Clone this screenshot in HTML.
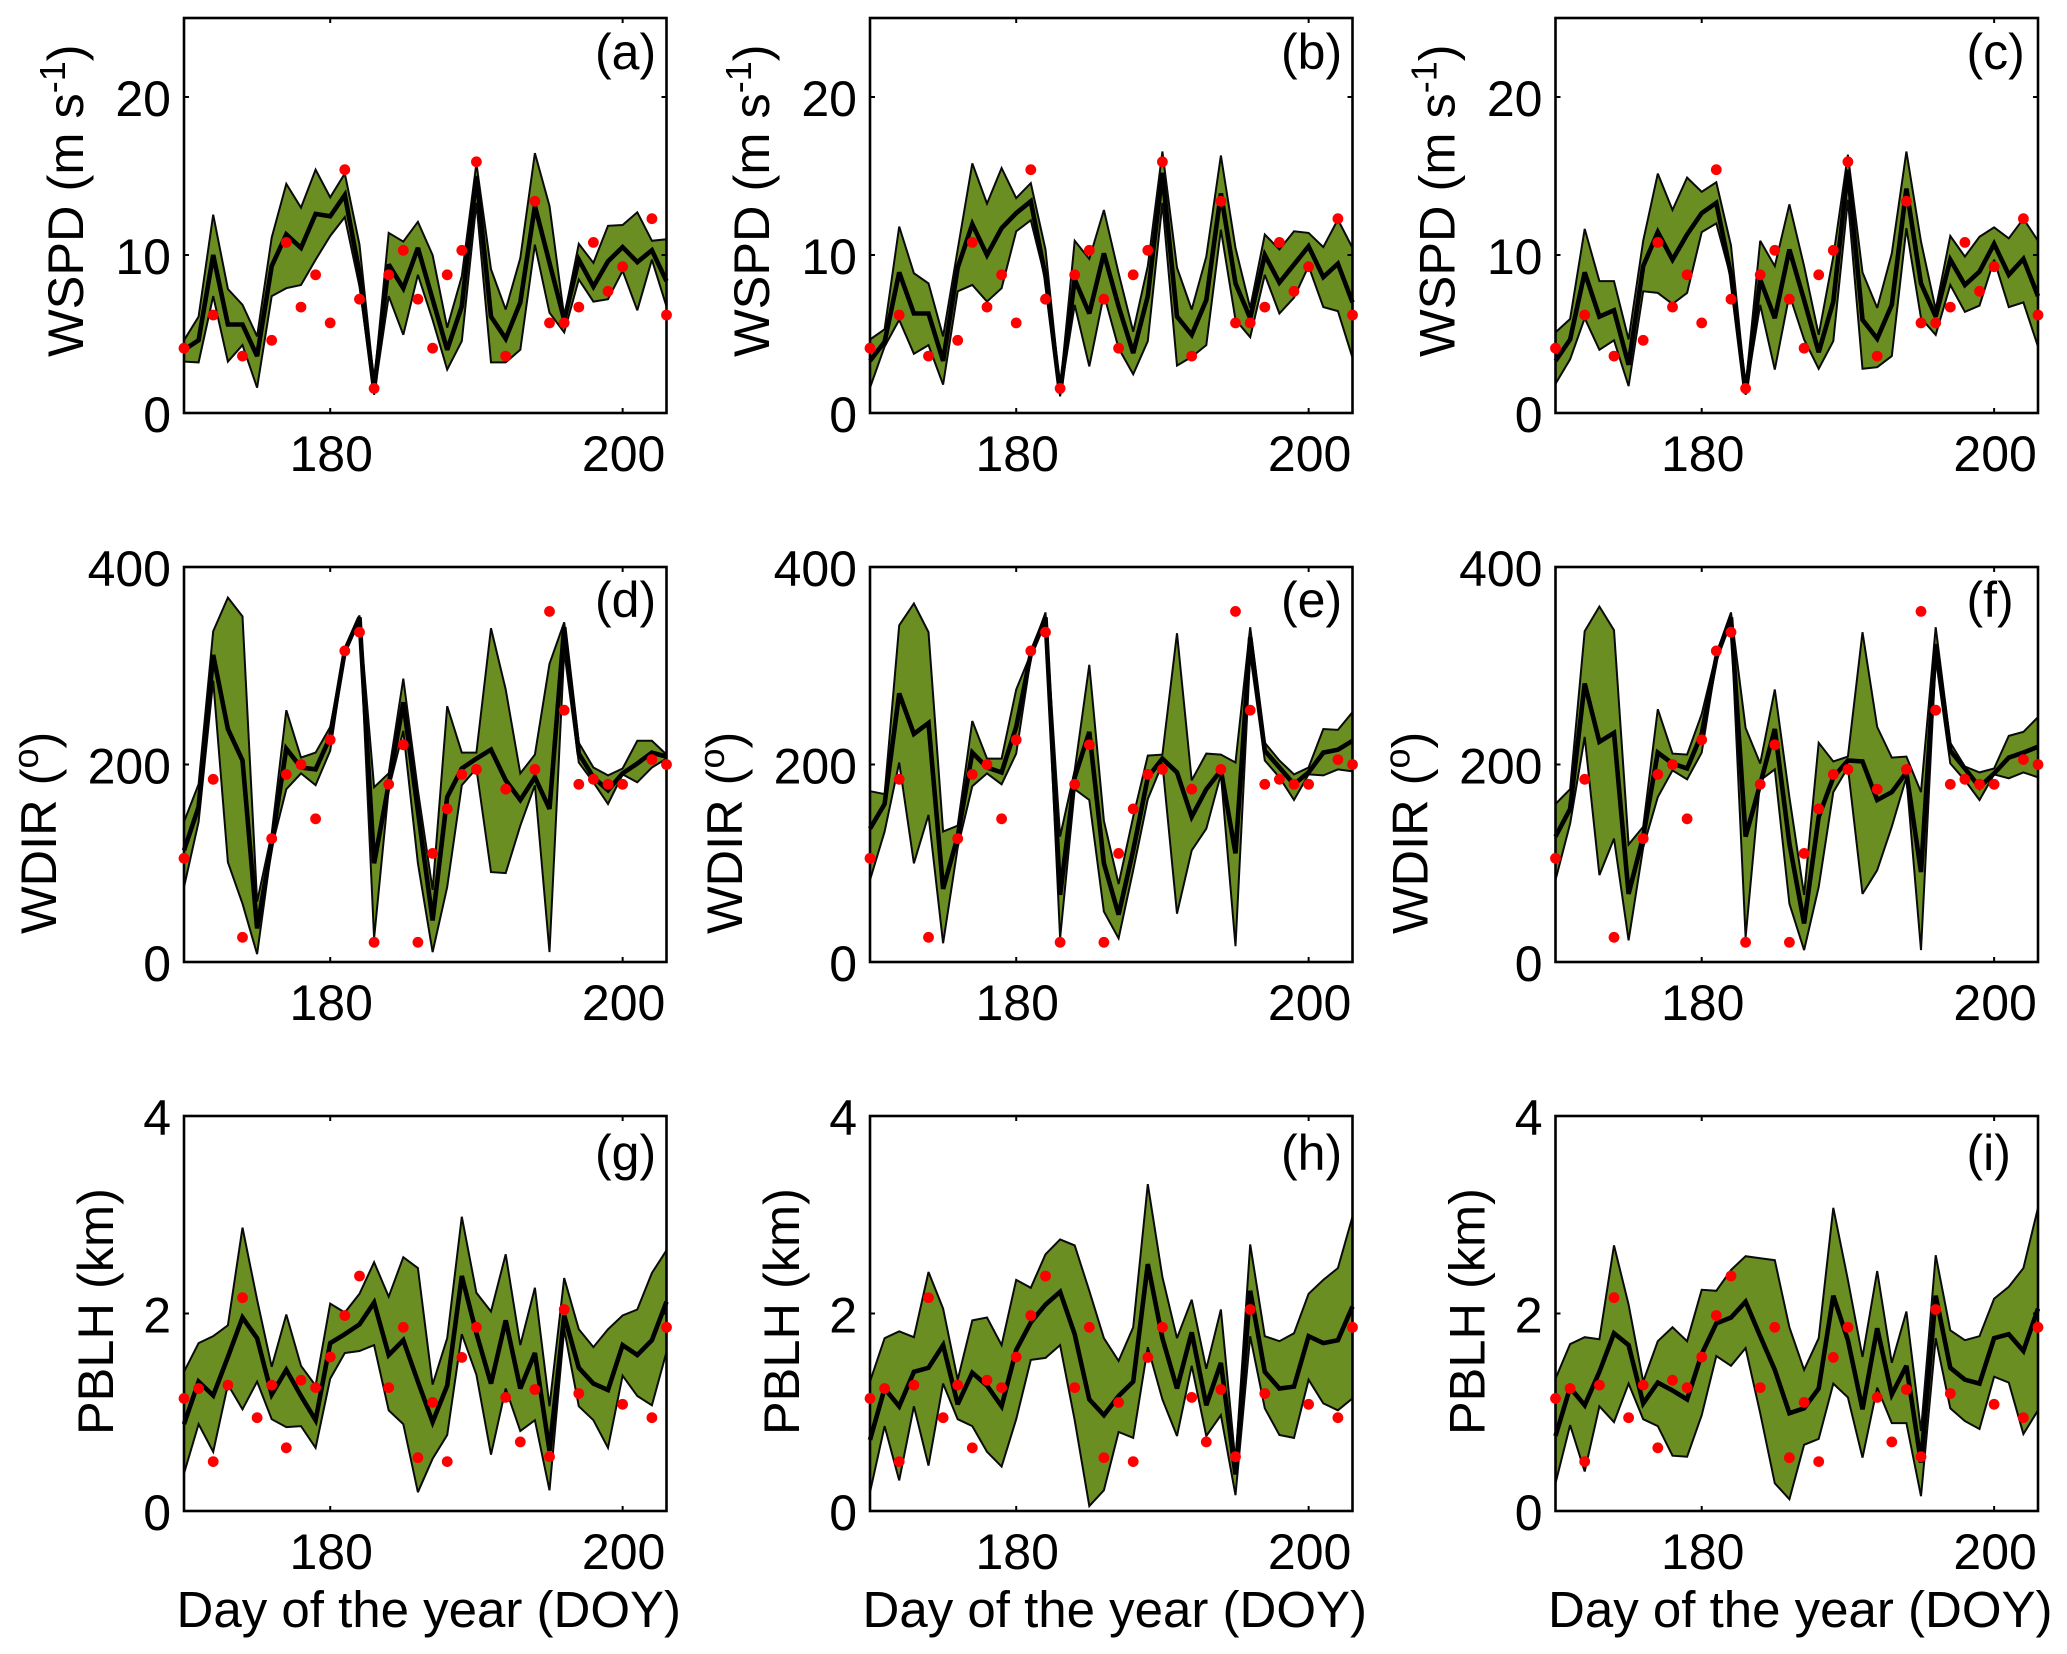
<!DOCTYPE html>
<html lang="en">
<head>
<meta charset="utf-8">
<title>WSPD, WDIR and PBLH ensemble time series</title>
<style>
html,body{margin:0;padding:0;background:#fff;}
svg{display:block;font-family:"Liberation Sans",Arial,sans-serif;}
</style>
</head>
<body>
<svg id="figure" xmlns="http://www.w3.org/2000/svg" width="2067" height="1654" viewBox="0 0 2067 1654"></svg>
<script>
const days=[170,171,172,173,174,175,176,177,178,179,180,181,182,183,184,185,186,187,188,189,190,191,192,193,194,195,196,197,198,199,200,201,202,203];

const obsWSPD=[4.1,null,6.2,null,3.6,null,4.6,10.8,6.7,8.75,5.7,15.4,7.2,1.56,8.75,10.3,7.2,4.1,8.75,10.3,15.9,null,3.6,null,13.4,5.7,5.7,6.7,10.8,7.7,9.26,null,12.3,6.2];
const obsWDIR=[105,null,185,null,25,null,125,190,200,145,225,315,334,20,180,220,20,110,155,190,195,null,175,null,195,355,255,180,185,180,180,null,205,200];
const obsPBLH=[1.14,1.24,0.5,1.275,2.16,0.945,1.275,0.64,1.325,1.25,1.56,1.98,2.38,null,1.25,1.86,0.54,1.10,0.5,1.555,1.86,null,1.15,0.70,1.23,0.55,2.04,1.19,null,null,1.08,null,0.945,1.86];

const upperA=[4.6,6.1,12.55,7.85,6.85,4.85,11.1,14.5,13.0,15.4,13.65,15.15,10.65,1.9,11.4,10.85,12.1,10.0,5.4,8.65,15.8,9.1,6.55,9.8,16.45,13.1,6.1,10.7,9.5,11.85,11.9,12.7,10.9,11.0];
const meanA=[4.0,4.6,10.0,5.6,5.6,3.6,9.3,11.3,10.45,12.6,12.45,13.8,8.85,1.5,9.4,7.9,10.45,7.2,4.0,6.75,15.0,6.1,4.7,7.0,13.1,9.5,5.9,9.7,8.0,9.6,10.5,9.55,10.3,8.35];
const lowerA=[3.25,3.2,7.4,3.25,4.3,1.6,7.4,7.9,8.1,9.7,11.2,12.4,8.0,1.15,7.4,4.95,8.75,5.9,2.75,4.55,13.3,3.2,3.2,4.0,10.65,6.35,5.1,8.45,7.05,7.2,9.0,6.5,9.7,6.75];

const upperB=[4.65,5.3,11.8,8.85,8.2,4.85,10.35,15.8,13.25,15.5,13.6,14.55,10.35,1.5,10.9,9.75,12.85,8.85,5.15,9.3,16.55,9.2,6.55,9.9,16.3,10.45,6.65,11.3,10.35,11.5,11.4,10.5,12.25,10.45];
const meanB=[3.3,4.5,8.9,6.3,6.3,3.3,9.2,11.95,10.0,11.7,12.65,13.4,8.65,1.25,8.45,6.3,10.1,6.75,3.8,7.4,15.2,6.1,4.95,7.15,13.9,8.2,6.0,10.0,8.25,9.4,10.55,8.6,9.45,7.0];
const lowerB=[1.6,4.2,5.9,3.75,4.3,1.8,7.7,8.1,7.05,7.9,11.5,12.2,8.45,1.05,6.85,2.95,7.5,4.1,2.45,4.55,13.3,3.0,3.55,4.3,11.6,5.9,4.8,8.75,6.3,7.3,9.3,6.7,6.45,3.5];

const upperC=[5.1,5.95,11.65,8.35,8.35,4.65,10.9,15.15,12.85,14.9,14.0,14.6,10.6,1.6,10.9,9.3,13.2,9.3,4.95,9.9,16.35,8.9,6.65,10.1,16.55,10.85,6.55,11.2,9.9,11.15,11.75,11.05,12.3,10.9];
const meanC=[3.3,4.65,8.9,6.1,6.5,3.05,9.3,11.45,9.7,11.3,12.65,13.3,8.75,1.25,8.45,6.0,10.35,7.15,3.85,7.05,15.4,5.9,4.7,6.85,14.2,8.2,6.1,9.7,8.1,8.95,10.7,8.75,9.75,7.4];
const lowerC=[1.85,3.4,6.0,4.0,4.6,1.7,7.7,7.6,6.9,7.6,11.45,12.0,8.55,1.15,6.85,2.75,7.5,4.65,2.8,4.55,13.5,2.8,2.9,3.6,11.7,6.0,4.95,8.1,6.4,6.8,9.7,6.7,7.0,4.2];

const upperD=[142,180,335,369,350,61,130,255,207,212,238,315,351,177,191,287,174,73,259,212,212,338,276,191,210,302,344,222,197,189,196,224,224,210];
const meanD=[113,157,311,236,204,34,120,216,197,195,228,315,349,100,180,263,153,42,167,196,206,215,184,164,187,155,339,211,187,174,191,201,212,208];
const lowerD=[76,142,285,101,59,8,116,175,191,179,214,313,347,24,175,234,100,10,76,179,196,91,90,138,179,10,315,202,182,160,190,182,197,206];

const upperE=[173,170,341,363,334,132,138,244,206,206,276,312,354,127,194,301,143,79,147,209,210,333,184,211,210,202,339,222,204,190,197,236,235,253];
const meanE=[135,160,272,231,242,74,127,212,197,192,238,312,349,68,187,233,100,48,113,187,206,192,147,175,194,110,329,214,197,180,192,212,215,224];
const lowerE=[83,132,202,100,149,19,116,178,191,180,211,308,344,24,175,164,51,24,93,165,201,49,113,135,190,16,312,204,187,164,190,189,195,193];

const upperF=[160,175,335,360,336,119,137,256,211,210,251,312,354,237,201,276,167,68,222,203,208,334,238,207,208,172,339,222,198,192,196,229,233,248];
const meanF=[127,155,282,223,232,69,127,212,201,196,231,308,349,127,180,236,120,39,147,187,204,203,164,172,192,91,322,214,196,177,191,207,212,218];
const lowerF=[83,140,228,88,125,22,116,167,194,185,212,305,344,25,184,195,59,12,76,172,197,69,93,137,187,12,308,201,184,164,190,186,192,187];

const upperG=[1.41,1.70,1.77,1.88,2.87,2.14,1.46,1.99,1.47,1.27,2.10,2.01,2.20,2.52,2.17,2.57,2.46,1.28,1.75,2.98,2.21,2.02,2.60,1.68,2.26,1.06,2.36,1.84,1.66,1.84,1.98,2.04,2.41,2.64];
const meanG=[0.88,1.31,1.17,1.56,1.96,1.75,1.18,1.43,1.165,0.92,1.70,1.79,1.89,2.11,1.58,1.73,1.31,0.90,1.27,2.38,1.80,1.29,1.93,1.24,1.60,0.61,1.98,1.45,1.29,1.225,1.68,1.58,1.73,2.12];
const lowerG=[0.38,0.88,0.60,1.28,1.03,1.31,0.93,0.85,0.86,0.64,1.34,1.60,1.62,1.68,1.02,0.88,0.19,0.53,0.77,1.79,1.38,0.57,1.24,0.81,0.92,0.21,1.84,1.06,0.92,0.64,1.37,1.165,1.07,1.61];

const upperH=[1.31,1.75,1.82,1.76,2.42,2.05,1.33,1.93,1.96,1.68,2.34,2.26,2.60,2.75,2.69,2.23,1.75,1.52,1.86,3.31,2.37,1.75,2.14,1.44,2.04,0.49,2.70,1.77,1.72,1.80,2.20,2.34,2.46,2.98];
const meanH=[0.72,1.24,1.06,1.41,1.45,1.68,1.08,1.40,1.27,1.06,1.63,1.91,2.09,2.22,1.79,1.13,0.97,1.165,1.31,2.50,1.75,1.24,1.81,1.07,1.50,0.37,2.23,1.41,1.24,1.26,1.77,1.70,1.73,2.07];
const lowerH=[0.19,0.86,0.31,1.06,0.46,1.29,0.93,0.86,0.60,0.45,0.93,1.53,1.55,1.68,0.92,0.05,0.21,0.80,0.74,1.66,1.13,0.76,1.47,0.76,0.97,0.16,1.77,1.04,0.77,0.74,1.33,1.09,1.02,1.14];

const upperI=[1.34,1.69,1.76,1.74,2.69,2.09,1.31,1.72,1.86,1.72,2.24,2.23,2.44,2.58,2.56,2.54,1.86,1.43,1.75,3.07,2.34,1.56,2.43,1.50,2.02,0.81,2.59,1.83,1.73,1.77,2.15,2.27,2.46,3.07];
const meanI=[0.76,1.25,1.07,1.41,1.80,1.68,1.09,1.30,1.22,1.13,1.59,1.90,1.96,2.12,1.77,1.43,0.99,1.04,1.24,2.18,1.73,1.03,1.85,1.18,1.47,0.49,2.18,1.45,1.33,1.29,1.75,1.79,1.62,2.05];
const lowerI=[0.28,0.87,0.40,1.06,0.90,1.29,0.93,0.86,0.56,0.55,0.97,1.57,1.47,1.65,0.99,0.28,0.12,0.67,0.73,1.29,1.15,0.54,1.25,0.89,0.89,0.15,1.75,1.04,0.91,0.83,1.36,1.30,0.78,1.02];

const xTicks=[180,200];
const yTicksWSPD=[0,10,20];
const yTicksWDIR=[0,200,400];
const yTicksPBLH=[0,2,4];
const panelLetters=["(a)","(b)","(c)","(d)","(e)","(f)","(g)","(h)","(i)"];
const xAxisTitle="Day of the year (DOY)";

const svg=document.getElementById('figure');
const NS='http://www.w3.org/2000/svg';
const colLeft=[184,870,1555.5];
const rowTop=[18,567,1116];
const letterOffset=[51,50,54];
const plotW=482.5, plotH=395;
const xMin=170, xMax=203;

const rows=[
 {yMax:25,ticks:yTicksWSPD,obs:obsWSPD,t1:"WSPD (m s",sup:"-1",t2:")",titleX:83,titleY:357,series:[[upperA,meanA,lowerA],[upperB,meanB,lowerB],[upperC,meanC,lowerC]]},
 {yMax:400,ticks:yTicksWDIR,obs:obsWDIR,t1:"WDIR (",sup:"o",t2:")",titleX:56,titleY:934,series:[[upperD,meanD,lowerD],[upperE,meanE,lowerE],[upperF,meanF,lowerF]]},
 {yMax:4,ticks:yTicksPBLH,obs:obsPBLH,t1:"PBLH (km)",sup:"",t2:"",titleX:113,titleY:1435,series:[[upperG,meanG,lowerG],[upperH,meanH,lowerH],[upperI,meanI,lowerI]]}
];

function make(tag,attrs,parent){
  const el=document.createElementNS(NS,tag);
  for(const k in attrs){el.setAttribute(k,attrs[k]);}
  parent.appendChild(el);
  return el;
}

rows.forEach(function(row,r){
  for(let c=0;c<3;c++){
    const left=colLeft[c], top=rowTop[r];
    const sx=function(v){return left+(v-xMin)/(xMax-xMin)*plotW;};
    const sy=function(v){return top+plotH-v/row.yMax*plotH;};
    const idx=r*3+c;
    const trio=row.series[c];

    const g=make('g',{},svg);
    
    

    const upper=trio[0], mean=trio[1], lower=trio[2];
    let bandPts=[];
    days.forEach(function(d,i){bandPts.push(sx(d).toFixed(1)+','+sy(upper[i]).toFixed(1));});
    for(let i=days.length-1;i>=0;i--){bandPts.push(sx(days[i]).toFixed(1)+','+sy(lower[i]).toFixed(1));}
    const band=make('polygon',{points:bandPts.join(' '),fill:'#6b8e23',stroke:'#0a0a0a','stroke-width':'2','stroke-linejoin':'miter','stroke-miterlimit':'3'},g);
    
    

    const meanPts=days.map(function(d,i){return sx(d).toFixed(1)+','+sy(mean[i]).toFixed(1);}).join(' ');
    const meanLine=make('polyline',{points:meanPts,fill:'none',stroke:'#000','stroke-width':'4.6','stroke-linejoin':'miter','stroke-miterlimit':'3'},g);
    
    

    const frame=make('rect',{x:left,y:top,width:plotW,height:plotH,fill:'none',stroke:'#000','stroke-width':'2.6'},g);
    
    

    xTicks.forEach(function(t){
      const x=sx(t);
      const tk=make('path',{d:'M'+x+' '+(top+plotH)+'v-5M'+x+' '+top+'v5',stroke:'#000','stroke-width':'2',fill:'none'},g);
      
      
      const lab=make('text',{x:x+1,y:top+plotH+58,'font-size':'50','text-anchor':'middle',fill:'#000'},g);
      lab.textContent=String(t);
      
      
    });

    row.ticks.forEach(function(t){
      const y=sy(t);
      const tk=make('path',{d:'M'+left+' '+y+'h5M'+(left+plotW)+' '+y+'h-5',stroke:'#000','stroke-width':'2',fill:'none'},g);
      
      
      const lab=make('text',{x:left-13,y:y+19,'font-size':'50','text-anchor':'end',fill:'#000'},g);
      lab.textContent=String(t);
      
      
    });

    days.forEach(function(d,i){
      const v=row.obs[i];
      if(v===null){return;}
      const dot=make('circle',{cx:sx(d).toFixed(1),cy:sy(v).toFixed(1),r:'5.4',fill:'#ff0000'},g);
      
      
    });

    const letter=make('text',{x:left+411,y:top+letterOffset[r],'font-size':'50',fill:'#000'},g);
    letter.textContent=panelLetters[idx];
    
    

    const tx=row.titleX+(left-colLeft[0]);
    const title=make('text',{transform:'translate('+tx+','+row.titleY+') rotate(-90)','font-size':'50.5',fill:'#000'},g);
    
    
    const a=make('tspan',{},title);
    a.textContent=row.t1;
    if(row.sup){
      const s=make('tspan',{dy:'-18','font-size':'36'},title);
      s.textContent=row.sup;
      const b=make('tspan',{dy:'18'},title);
      b.textContent=row.t2;
    }

    if(r===2){
      const xt=make('text',{x:left-7.5,y:1627,'font-size':'51',fill:'#000'},g);
      xt.textContent=xAxisTitle;
      
      
    }
  }
});
</script>
</body>
</html>
